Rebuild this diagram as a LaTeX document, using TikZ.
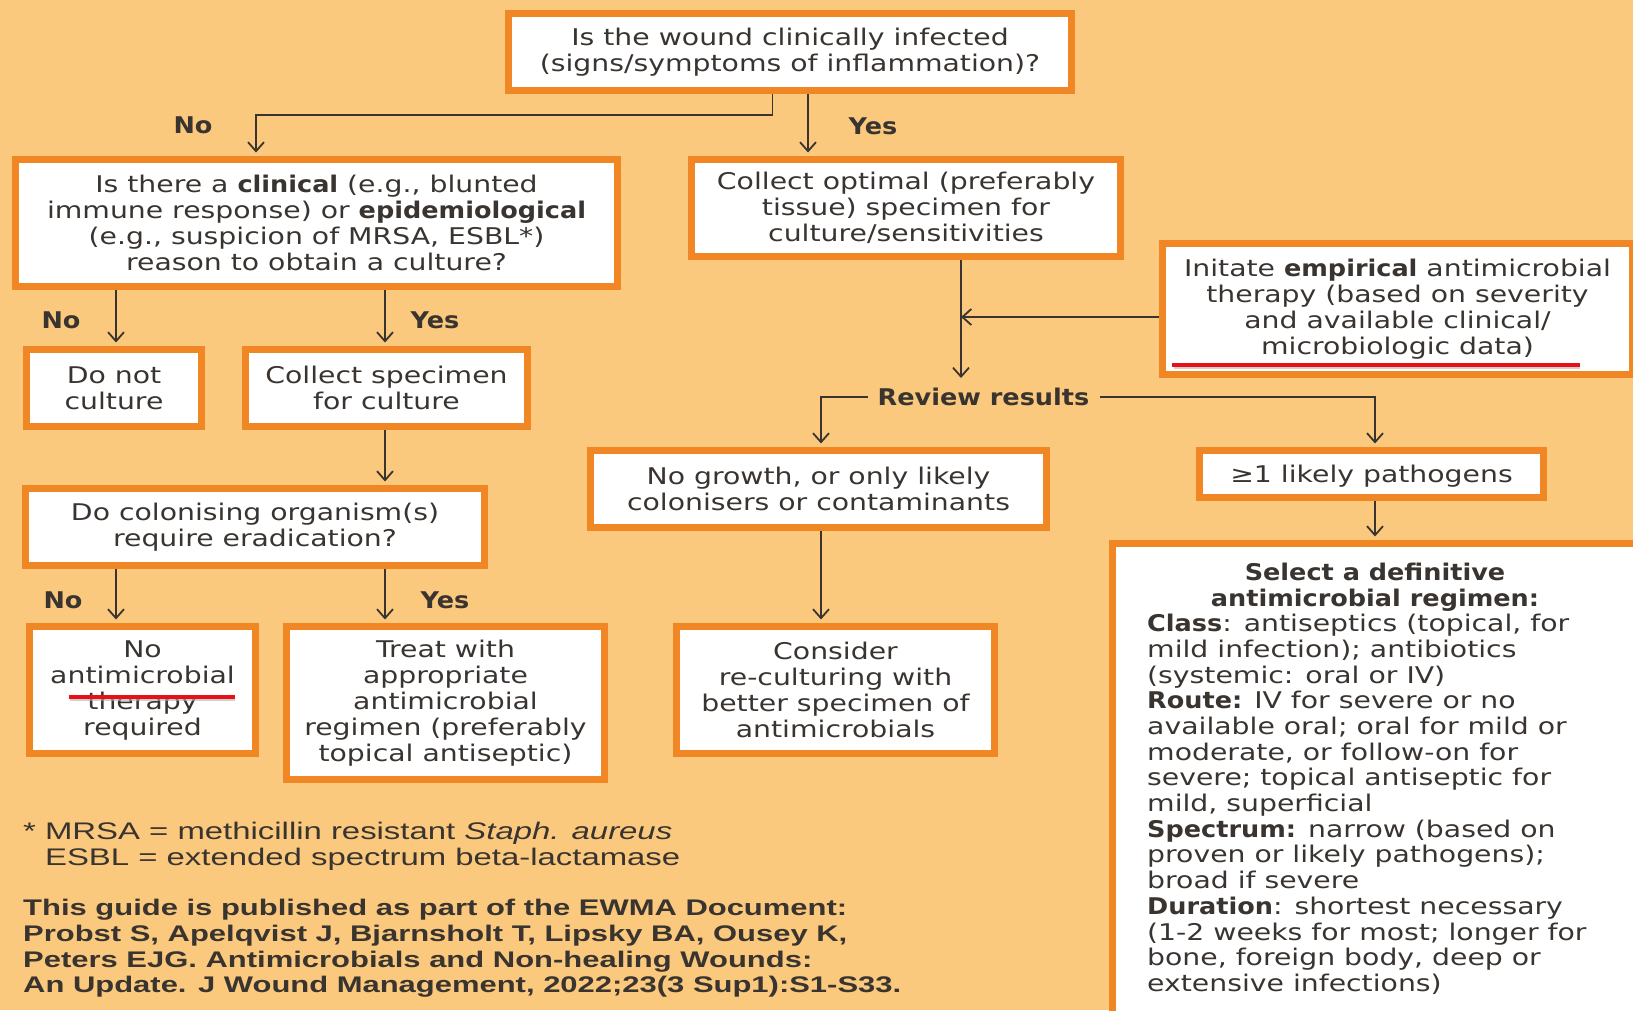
\documentclass[tikz,border=0pt]{standalone}
\usepackage{fontspec}
\setmainfont{DejaVu Sans}[FakeStretch=1.23, BoldFeatures={FakeStretch=1.11}]
\newfontfamily\notefont{Liberation Sans}[FakeStretch=1.37]
\usetikzlibrary{arrows.meta}
\definecolor{bg}{RGB}{250,201,125}
\definecolor{bord}{RGB}{241,134,36}
\definecolor{txt}{RGB}{58,52,48}
\definecolor{uline}{RGB}{232,16,22}
\begin{document}
\begin{tikzpicture}[x=1pt,y=-1pt,
  box/.style={draw=bord, line width=7pt, fill=white, align=center, inner sep=0pt, text=txt,
              font=\fontsize{23}{26}\selectfont},
  conn/.style={draw=txt, line width=1.8pt},
  arr/.style={conn, -{Straight Barb[length=9pt,width=16pt]}, shorten >=3.5pt},
  arrc/.style={conn, -{Straight Barb[length=9pt,width=16pt]}},
  lbl/.style={font=\fontsize{23}{26}\selectfont\bfseries, text=txt, inner sep=0pt},
  redmark/.style={draw=uline, line width=4pt},
]
\fill[bg] (0,0) rectangle (1633,1010);
\useasboundingbox (0,0) rectangle (1633,1010);

% boxes
\node[box, minimum width=563pt, minimum height=77pt] (top) at (790,52)
  {Is the wound clinically infected\\(signs/symptoms of inflammation)?};
\node[box, minimum width=602pt, minimum height=127pt] (q2) at (316.5,223)
  {Is there a \textbf{clinical} (e.g., blunted\\immune response) or \textbf{epidemiological}\\(e.g., suspicion of MRSA, ESBL*)\\reason to obtain a culture?};
\node[box, minimum width=429pt, minimum height=97pt] (opt) at (906,208)
  {Collect optimal (preferably\\tissue) specimen for\\culture/sensitivities};
\node[box, minimum width=470pt, minimum height=131pt] (init) at (1397.5,309)
  {Initate \textbf{empirical} antimicrobial\\therapy (based on severity\\and available clinical/\\microbiologic data)};
\node[box, minimum width=175pt, minimum height=77pt] (dnc) at (114,388)
  {Do not\\culture};
\node[box, minimum width=282pt, minimum height=77pt] (cs) at (386.5,388)
  {Collect specimen\\for culture};
\node[box, minimum width=459pt, minimum height=77pt] (col) at (255,527)
  {Do colonising organism(s)\\require eradication?};
\node[box, minimum width=226pt, minimum height=127pt] (noab) at (142.5,690)
  {No\\antimicrobial\\therapy\\required};
\node[box, minimum width=318pt, minimum height=153pt] (treat) at (445.5,703)
  {Treat with\\appropriate\\antimicrobial\\regimen (preferably\\topical antiseptic)};
\node[box, minimum width=456pt, minimum height=77pt] (ng) at (818.5,489)
  {No growth, or only likely\\colonisers or contaminants};
\node[box, minimum width=318pt, minimum height=127pt] (cons) at (835.5,690)
  {Consider\\re-culturing with\\better specimen of\\antimicrobials};
\node[box, minimum width=344pt, minimum height=47pt, text depth=0pt] (p1) at (1371.5,474)
  {≥1 likely pathogens};
\node[box, minimum width=533pt, minimum height=481.5pt] (sel) at (1378.5,784.25) {};
\node[lbl, align=center, font=\fontsize{23}{25.7}\selectfont\bfseries] (selt) at (1375,587)
  {Select a definitive\\antimicrobial regimen:};
\node[text=txt, inner sep=0pt, anchor=north west, align=left,
      font=\fontsize{23}{25.7}\selectfont] (selb) at (1147,614)
  {\textbf{Class}: antiseptics (topical, for\\
   mild infection); antibiotics\\
   (systemic: oral or IV)\\
   \textbf{Route:} IV for severe or no\\
   available oral; oral for mild or\\
   moderate, or follow-on for\\
   severe; topical antiseptic for\\
   mild, superficial\\
   \textbf{Spectrum:} narrow (based on\\
   proven or likely pathogens);\\
   broad if severe\\
   \textbf{Duration}: shortest necessary\\
   (1-2 weeks for most; longer for\\
   bone, foreign body, deep or\\
   extensive infections)};

% labels
\node[lbl] (lno1) at (193,125) {No};
\node[lbl] (lyes1) at (873,126) {Yes};
\node[lbl] (lno2) at (61,320) {No};
\node[lbl] (lyes2) at (435,320) {Yes};
\node[lbl] (lno3) at (63,600) {No};
\node[lbl] (lyes3) at (445,600) {Yes};
\node[lbl, inner xsep=10pt] (rev) at (983.5,397) {Review results};

% connector coordinates
\coordinate (t1) at (772.5,115);
\coordinate (t2) at (256,115);
\coordinate (ty) at (808,0);
\coordinate (xa) at (116,0);
\coordinate (xb) at (385,0);
\coordinate (xo) at (961,0);
\coordinate (rv) at (961,378);
\coordinate (ia) at (961,317);
\coordinate (xl) at (821,397);
\coordinate (xr) at (1375,397);

% connectors
\draw[arr] (top.south -| t1) -- (t1) -- (t2) -- (q2.north -| t2);
\draw[arr] (top.south -| ty) -- (opt.north -| ty);
\draw[arr] (q2.south -| xa) -- (dnc.north -| xa);
\draw[arr] (q2.south -| xb) -- (cs.north -| xb);
\draw[arr] (cs.south -| xb) -- (col.north -| xb);
\draw[arr] (col.south -| xa) -- (noab.north -| xa);
\draw[arr] (col.south -| xb) -- (treat.north -| xb);
\draw[arrc] (opt.south -| xo) -- (rv);
\draw[arrc] (init.west |- ia) -- (ia);
\draw[arr] (rev.west) -- (xl) -- (ng.north -| xl);
\draw[arr] (rev.east) -- (xr) -- (p1.north -| xr);
\draw[arr] (ng.south -| xl) -- (cons.north -| xl);
\draw[arr] (p1.south -| xr) -- (sel.north -| xr);

% red underlines
\draw[black!30, line width=2pt, opacity=0.6] (1174,368) -- (1580,368);
\draw[redmark] (1172,365) -- (1580,365);
\draw[black!30, line width=2pt, opacity=0.6] (70,700) -- (235,700);
\draw[redmark] (68.6,697) -- (234.7,697);

% footnotes
\node[text=txt, inner sep=0pt, anchor=west, align=left,
      font=\notefont\fontsize{24}{26}\selectfont] (fn) at (23,846)
  {* MRSA = methicillin resistant \textit{Staph. aureus}\\
   \phantom{* }ESBL = extended spectrum beta-lactamase};
\node[text=txt, inner sep=0pt, anchor=west, align=left,
      font=\notefont\fontsize{22.6}{25.7}\selectfont\bfseries] (cite) at (23,948.5)
  {This guide is published as part of the EWMA Document:\\
   Probst S, Apelqvist J, Bjarnsholt T, Lipsky BA, Ousey K,\\
   Peters EJG. Antimicrobials and Non-healing Wounds:\\
   An Update. J Wound Management, 2022;23(3 Sup1):S1-S33.};
\end{tikzpicture}
\end{document}
